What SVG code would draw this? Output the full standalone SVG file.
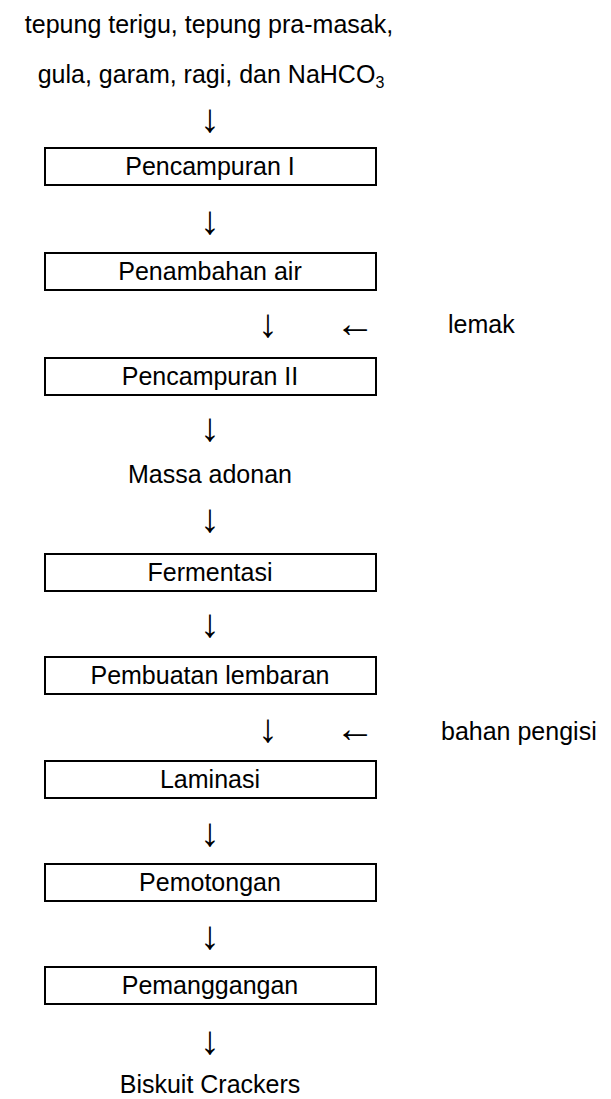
<svg xmlns="http://www.w3.org/2000/svg" width="611" height="1099" viewBox="0 0 611 1099">
<style>
.t{font-family:"Liberation Sans",Arial,sans-serif;font-size:25px;fill:#000;text-anchor:middle}
.l{font-family:"Liberation Sans",Arial,sans-serif;font-size:25px;fill:#000;text-anchor:start}
.a{font-family:"Liberation Serif","DejaVu Serif",serif;font-size:40px;fill:#000;text-anchor:middle;dominant-baseline:central}
.b{fill:#fff;stroke:#000;stroke-width:2}
</style>
<rect width="611" height="1099" fill="#fff"/>
<g id="input">
<text class="t" x="209" y="33" font-size="26">tepung terigu, tepung pra-masak,</text>
<text class="t" x="211" y="83">gula, garam, ragi, dan NaHCO<tspan font-size="16" dy="5">3</tspan></text>
</g>
<g id="n1"><rect class="b" x="45" y="148" width="331" height="37"/><text class="t" x="210" y="175">Pencampuran I</text></g>
<g id="n2"><rect class="b" x="45" y="253" width="331" height="37"/><text class="t" x="210" y="280">Penambahan air</text></g>
<g id="n3"><rect class="b" x="45" y="358" width="331" height="37"/><text class="t" x="210" y="385">Pencampuran II</text></g>
<g id="n4"><text class="t" x="210" y="483">Massa adonan</text></g>
<g id="n5"><rect class="b" x="45" y="554" width="331" height="37"/><text class="t" x="210" y="581">Fermentasi</text></g>
<g id="n6"><rect class="b" x="45" y="657" width="331" height="37"/><text class="t" x="210" y="684">Pembuatan lembaran</text></g>
<g id="n7"><rect class="b" x="45" y="761" width="331" height="37"/><text class="t" x="210" y="788">Laminasi</text></g>
<g id="n8"><rect class="b" x="45" y="864" width="331" height="37"/><text class="t" x="210" y="891">Pemotongan</text></g>
<g id="n9"><rect class="b" x="45" y="967" width="331" height="37"/><text class="t" x="210" y="994">Pemanggangan</text></g>
<g id="n10"><text class="t" x="210" y="1093">Biskuit Crackers</text></g>
<g id="lemak"><text class="l" x="448" y="333">lemak</text></g>
<g id="pengisi"><text class="l" x="441" y="740">bahan pengisi</text></g>
<g id="connectors">
<text class="a" x="210" y="118">↓</text>
<text class="a" x="210" y="220">↓</text>
<text class="a" x="268" y="323">↓</text>
<text class="a" x="355" y="323">←</text>
<text class="a" x="210" y="427">↓</text>
<text class="a" x="210" y="518">↓</text>
<text class="a" x="210" y="623">↓</text>
<text class="a" x="268" y="728">↓</text>
<text class="a" x="355" y="728">←</text>
<text class="a" x="210" y="832">↓</text>
<text class="a" x="210" y="935">↓</text>
<text class="a" x="210" y="1040">↓</text>
</g>
</svg>
